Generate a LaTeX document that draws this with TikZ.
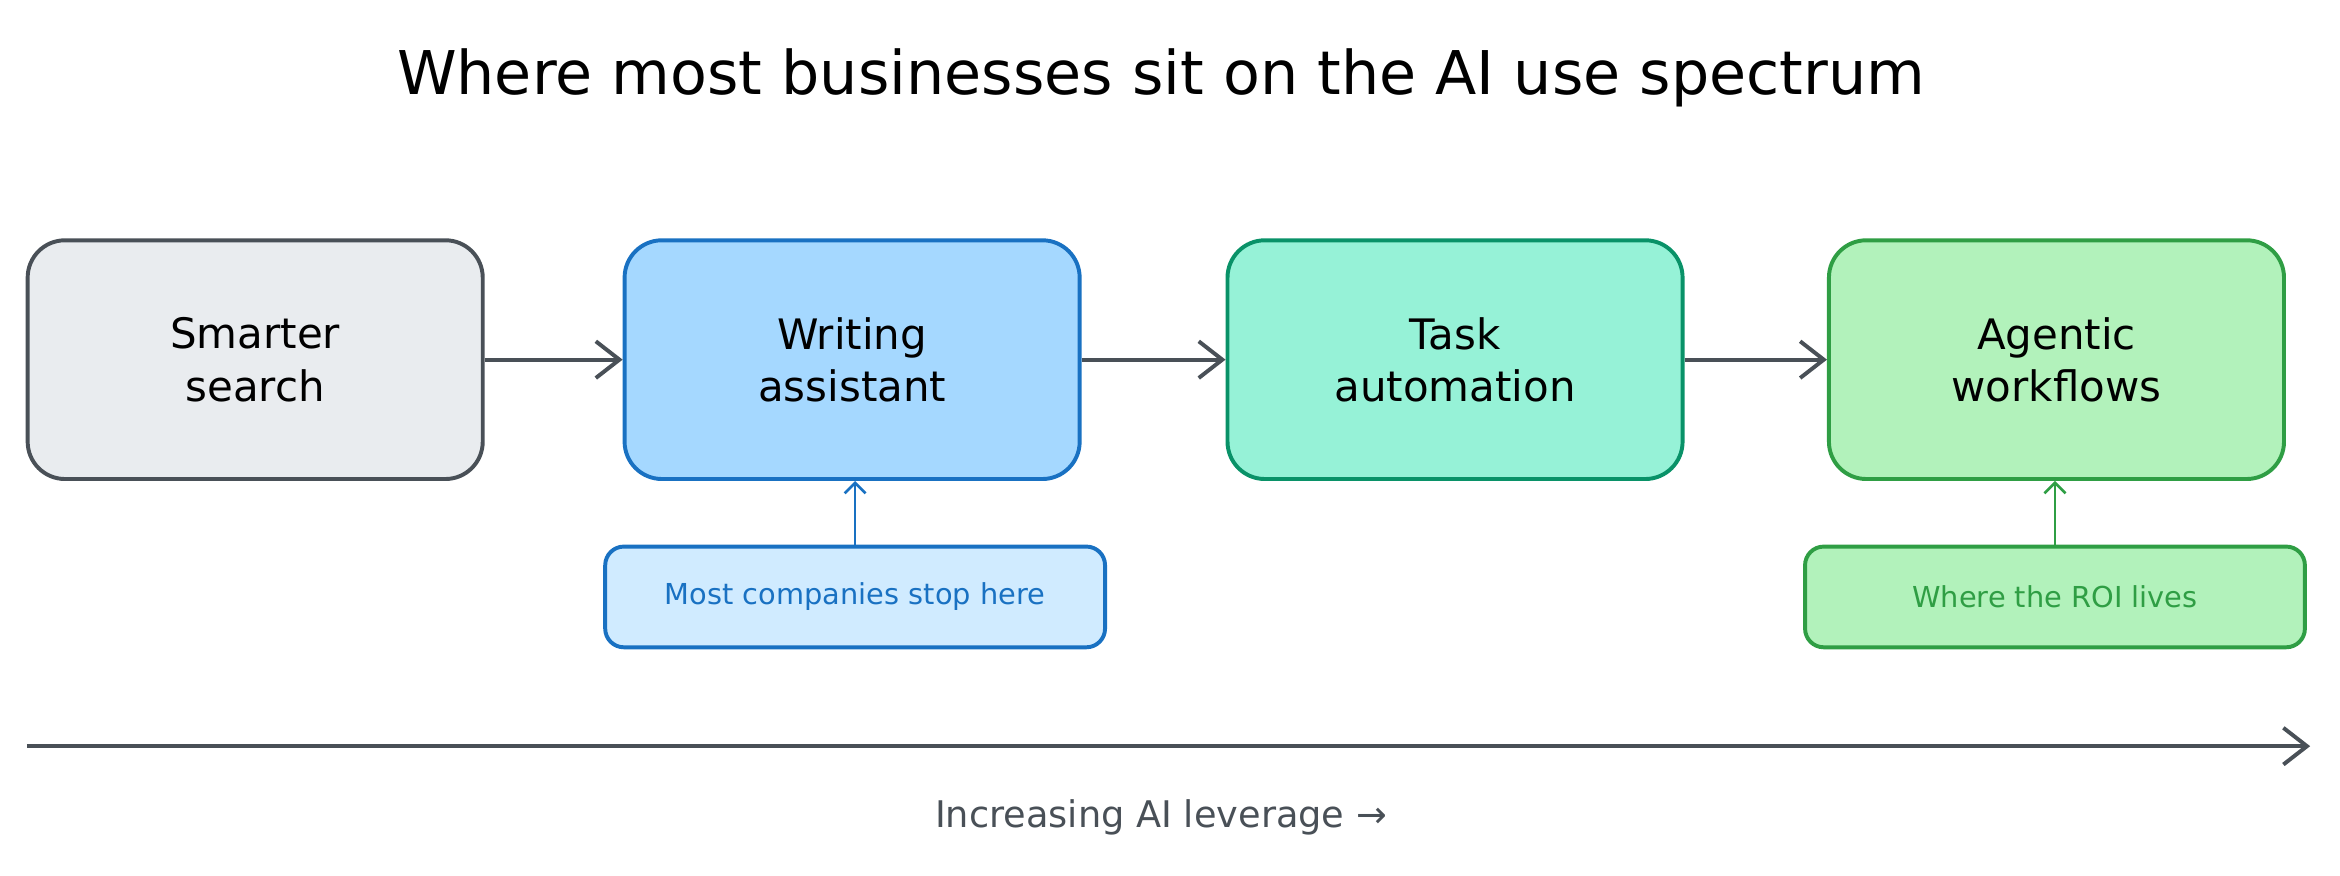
\documentclass[tikz,border=0pt]{standalone}
\usepackage{fontspec}
\setmainfont{DejaVu Sans}
\usetikzlibrary{positioning,arrows.meta}
\definecolor{grayfill}{HTML}{E9ECEF}
\definecolor{graydraw}{HTML}{495057}
\definecolor{bluefill}{HTML}{A5D8FF}
\definecolor{bluedraw}{HTML}{1971C2}
\definecolor{bluenote}{HTML}{D0EBFF}
\definecolor{tealfill}{HTML}{96F2D7}
\definecolor{tealdraw}{HTML}{099268}
\definecolor{greenfill}{HTML}{B2F2BB}
\definecolor{greendraw}{HTML}{2F9E44}

\begin{document}
\begin{tikzpicture}[x=0.02cm,y=-0.02cm]
    \tikzstyle{stage} = [rectangle, rounded corners=0.5cm, draw, line width=1.5pt, text width=5.2cm, text centered, minimum width=6.1cm, minimum height=3.2cm, font=\fontsize{16}{20}\selectfont]
    \tikzstyle{note} = [rectangle, rounded corners=0.25cm, draw, line width=1.5pt, minimum width=6.7cm, minimum height=1.35cm, font=\fontsize{11}{13}\selectfont]
    \tikzstyle{arrow} = [line width=1.5pt, -{Straight Barb[length=9pt,width=14pt]}]

    \useasboundingbox (0,0) rectangle (1568,587);
    \node (title) at (778,52) {\fontsize{23}{27}\selectfont Where most businesses sit on the AI use spectrum};

    \node [stage, fill=grayfill, draw=graydraw] (search) at (171,241) {Smarter\\search};
    \node [stage, fill=bluefill, draw=bluedraw] (writing) at (571,241) {Writing\\assistant};
    \node [stage, fill=tealfill, draw=tealdraw] (task) at (975,241) {Task\\automation};
    \node [stage, fill=greenfill, draw=greendraw] (agentic) at (1378,241) {Agentic\\workflows};

    \draw [arrow, graydraw] (search) -- (writing);
    \draw [arrow, graydraw] (writing) -- (task);
    \draw [arrow, graydraw] (task) -- (agentic);

    \node [note, fill=bluenote, draw=bluedraw, text=bluedraw] (stop) at (573,400) {Most companies stop here};
    \node [note, fill=greenfill, draw=greendraw, text=greendraw] (roi) at (1377,400) {Where the ROI lives};
    \draw [bluedraw, line width=1pt, -{Straight Barb[length=4pt,width=8pt]}] (stop) -- (stop |- writing.south);
    \draw [greendraw, line width=1pt, -{Straight Barb[length=4pt,width=8pt]}] (roi) -- (roi |- agentic.south);

    \coordinate (axisstart) at (18,500);
    \coordinate (axisend) at (1548,500);
    \draw [arrow, graydraw] (axisstart) -- (axisend);
    \node [text=graydraw, font=\fontsize{14}{17}\selectfont] (leverage) at (778,548) {Increasing AI leverage →};
\end{tikzpicture}
\end{document}
